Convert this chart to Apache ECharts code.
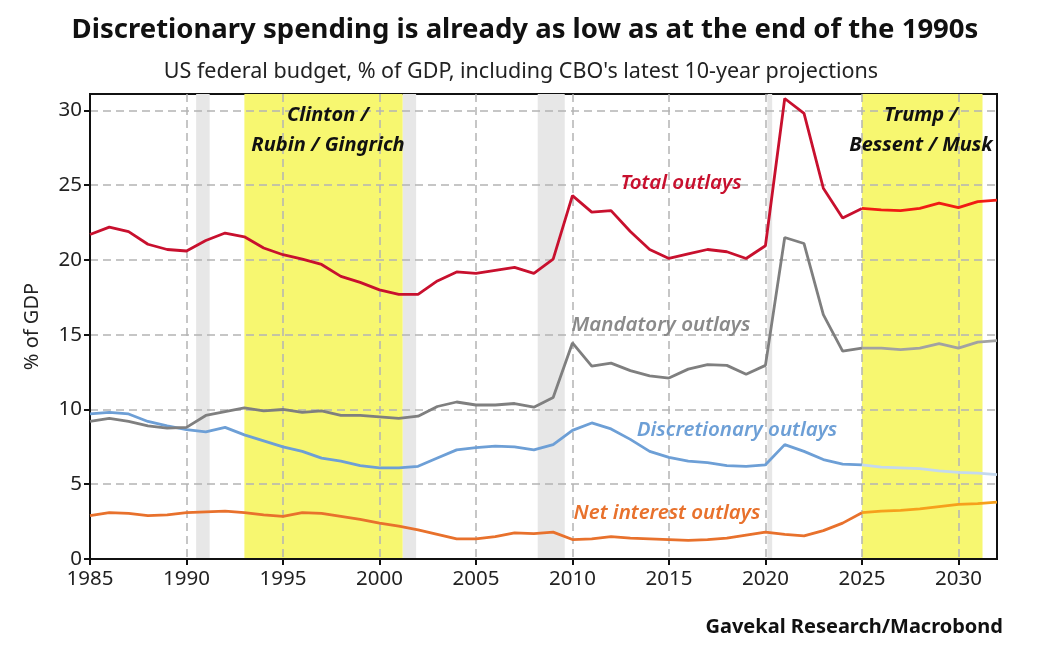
<!DOCTYPE html>
<html>
<head>
<meta charset="utf-8">
<script src="https://cdn.jsdelivr.net/npm/echarts@6/dist/echarts.min.js"></script>
<style>
  html, body { margin: 0; padding: 0; background: #fff; }
  #chart { width: 1040px; height: 652px; }
</style>
</head>
<body>
<div id="chart"></div>
<script>
// fiscal years on the x axis
var years = [];
for (var y = 1985; y <= 2032; y++) years.push(y);
var lastActual = 2025; // CBO projections start here

// % of GDP
var totalOutlays = [21.7, 22.2, 21.9, 21.05, 20.7, 20.6, 21.3, 21.8, 21.55, 20.8,
  20.35, 20.05, 19.7, 18.9, 18.5, 18.0, 17.7, 17.7, 18.6, 19.2,
  19.1, 19.3, 19.5, 19.1, 20.05, 24.3, 23.2, 23.3, 21.9, 20.7,
  20.1, 20.4, 20.7, 20.55, 20.1, 20.95, 30.8, 29.8, 24.8, 22.8,
  23.45, 23.35, 23.3, 23.45, 23.8, 23.5, 23.9, 24.0];
var mandatoryOutlays = [9.2, 9.4, 9.2, 8.9, 8.75, 8.8, 9.6, 9.85, 10.1, 9.9,
  10.0, 9.8, 9.9, 9.6, 9.6, 9.5, 9.4, 9.55, 10.2, 10.5,
  10.3, 10.3, 10.4, 10.15, 10.8, 14.45, 12.9, 13.1, 12.6, 12.25,
  12.1, 12.7, 13.0, 12.95, 12.35, 12.95, 21.5, 21.1, 16.35, 13.9,
  14.1, 14.1, 14.0, 14.1, 14.4, 14.1, 14.5, 14.6];
var discretionaryOutlays = [9.7, 9.8, 9.7, 9.2, 8.9, 8.65, 8.5, 8.8, 8.3, 7.9,
  7.5, 7.2, 6.75, 6.55, 6.25, 6.1, 6.1, 6.2, 6.75, 7.3,
  7.45, 7.55, 7.5, 7.3, 7.65, 8.6, 9.1, 8.7, 8.0, 7.2,
  6.8, 6.55, 6.45, 6.25, 6.2, 6.3, 7.65, 7.2, 6.65, 6.35,
  6.3, 6.15, 6.1, 6.05, 5.9, 5.8, 5.75, 5.65];
var netInterestOutlays = [2.9, 3.1, 3.05, 2.9, 2.95, 3.1, 3.15, 3.2, 3.1, 2.95,
  2.85, 3.1, 3.05, 2.85, 2.65, 2.4, 2.2, 1.95, 1.65, 1.35,
  1.35, 1.5, 1.75, 1.7, 1.8, 1.3, 1.35, 1.5, 1.4, 1.35,
  1.3, 1.25, 1.3, 1.4, 1.6, 1.8, 1.65, 1.55, 1.9, 2.4,
  3.1, 3.2, 3.25, 3.35, 3.5, 3.65, 3.7, 3.8];

// shaded periods [from, to]
var recessions = [[1990.5, 1991.2], [2001.2, 2001.9], [2008.2, 2009.6], [2020.1, 2020.35]];
var eras = [[1993.0, 2001.2], [2025.0, 2031.25]];

var xTicks = [1985, 1990, 1995, 2000, 2005, 2010, 2015, 2020, 2025, 2030];
var yTicks = [0, 5, 10, 15, 20, 25, 30];

var chart = echarts.init(document.getElementById('chart'));

// split a series into actual and projected parts (both share lastActual)
function part(vals, projected) {
  var out = [];
  for (var i = 0; i < years.length; i++) {
    if (projected ? years[i] >= lastActual : years[i] <= lastActual) {
      out.push([years[i], vals[i]]);
    }
  }
  return out;
}

function lineSeries(name, vals, projected, color) {
  return {
    name: name,
    type: 'line',
    data: part(vals, projected),
    showSymbol: false,
    symbol: 'none',
    z: 3,
    lineStyle: { color: color, width: 2.8 },
    silent: true
  };
}

var bandAreas = [];
recessions.forEach(function (r) {
  bandAreas.push([{ xAxis: r[0], itemStyle: { color: '#e7e7e7' } }, { xAxis: r[1] }]);
});
eras.forEach(function (r) {
  bandAreas.push([{ xAxis: r[0], itemStyle: { color: '#f7f770' } }, { xAxis: r[1] }]);
});

var font = 'Noto Sans';
var noteFont = 'italic 600 20.5px "Noto Sans"';
var eraFont = 'italic bold 20px "Noto Sans"';

var option = {
  animation: false,
  backgroundColor: '#fff',
  grid: {
    left: 90, right: 43, top: 94, bottom: 93,
    show: true, borderColor: '#111', borderWidth: 2, backgroundColor: 'transparent'
  },
  xAxis: {
    type: 'value', min: 1985, max: 2032, interval: 5, z: 2,
    axisLine: { lineStyle: { color: '#111', width: 2 } },
    axisTick: { show: true, length: 6, customValues: xTicks, lineStyle: { color: '#111', width: 2 } },
    axisLabel: {
      customValues: xTicks, color: '#222', fontSize: 20.5, fontFamily: font, margin: 10,
      formatter: function (v) { return String(v); }
    },
    splitLine: { show: true, lineStyle: { color: '#b4b4b4', width: 1.5, type: [8, 5] } }
  },
  yAxis: {
    type: 'value', min: 0, max: 31.1, interval: 5, z: 2,
    name: '% of GDP', nameLocation: 'middle', nameGap: 48,
    nameTextStyle: { color: '#222', fontSize: 20, fontFamily: font },
    axisLine: { show: true, lineStyle: { color: '#111', width: 2 } },
    axisTick: { show: true, length: 6, customValues: yTicks, lineStyle: { color: '#111', width: 2 } },
    axisLabel: { customValues: yTicks, color: '#222', fontSize: 20.5, fontFamily: font, margin: 8 },
    splitLine: { show: true, lineStyle: { color: '#b4b4b4', width: 1.5, type: [8, 5] } }
  },
  series: [
    {
      name: 'bands', type: 'line', data: [], z: 1, silent: true,
      markArea: { silent: true, data: bandAreas }
    },
    lineSeries('Net interest outlays', netInterestOutlays, false, '#e8712c'),
    lineSeries('Net interest outlays (CBO)', netInterestOutlays, true, '#f6a01c'),
    lineSeries('Discretionary outlays', discretionaryOutlays, false, '#6d9fd6'),
    lineSeries('Discretionary outlays (CBO)', discretionaryOutlays, true, '#c4d9ef'),
    lineSeries('Mandatory outlays', mandatoryOutlays, false, '#7f7f7f'),
    lineSeries('Mandatory outlays (CBO)', mandatoryOutlays, true, '#a2a2a2'),
    lineSeries('Total outlays', totalOutlays, false, '#c8102e'),
    lineSeries('Total outlays (CBO)', totalOutlays, true, '#f01c14')
  ],
  graphic: [
    { type: 'text', x: 525, y: 30, style: { text: 'Discretionary spending is already as low as at the end of the 1990s', font: 'bold 27.5px "Noto Sans"', fill: '#111', align: 'center', verticalAlign: 'middle' } },
    { type: 'text', x: 521, y: 72, style: { text: "US federal budget, % of GDP, including CBO's latest 10-year projections", font: '21.5px "Noto Sans"', fill: '#222', align: 'center', verticalAlign: 'middle' } },
    { type: 'text', x: 328, y: 115, z: 10, style: { text: 'Clinton /', font: eraFont, fill: '#111', align: 'center', verticalAlign: 'middle' } },
    { type: 'text', x: 328, y: 145, z: 10, style: { text: 'Rubin / Gingrich', font: eraFont, fill: '#111', align: 'center', verticalAlign: 'middle' } },
    { type: 'text', x: 921, y: 115, z: 10, style: { text: 'Trump /', font: eraFont, fill: '#111', align: 'center', verticalAlign: 'middle' } },
    { type: 'text', x: 921, y: 145, z: 10, style: { text: 'Bessent / Musk', font: eraFont, fill: '#111', align: 'center', verticalAlign: 'middle' } },
    { type: 'text', x: 681, y: 183, z: 10, style: { text: 'Total outlays', font: noteFont, fill: '#c8102e', align: 'center', verticalAlign: 'middle' } },
    { type: 'text', x: 661, y: 325, z: 10, style: { text: 'Mandatory outlays', font: noteFont, fill: '#8a8a8a', align: 'center', verticalAlign: 'middle' } },
    { type: 'text', x: 737, y: 430, z: 10, style: { text: 'Discretionary outlays', font: noteFont, fill: '#6d9fd6', align: 'center', verticalAlign: 'middle' } },
    { type: 'text', x: 667, y: 513, z: 10, style: { text: 'Net interest outlays', font: noteFont, fill: '#e8712c', align: 'center', verticalAlign: 'middle' } },
    { type: 'text', x: 1003, y: 627, style: { text: 'Gavekal Research/Macrobond', font: 'bold 20px "Noto Sans"', fill: '#111', align: 'right', verticalAlign: 'middle' } }
  ]
};

chart.setOption(option);
</script>
</body>
</html>
